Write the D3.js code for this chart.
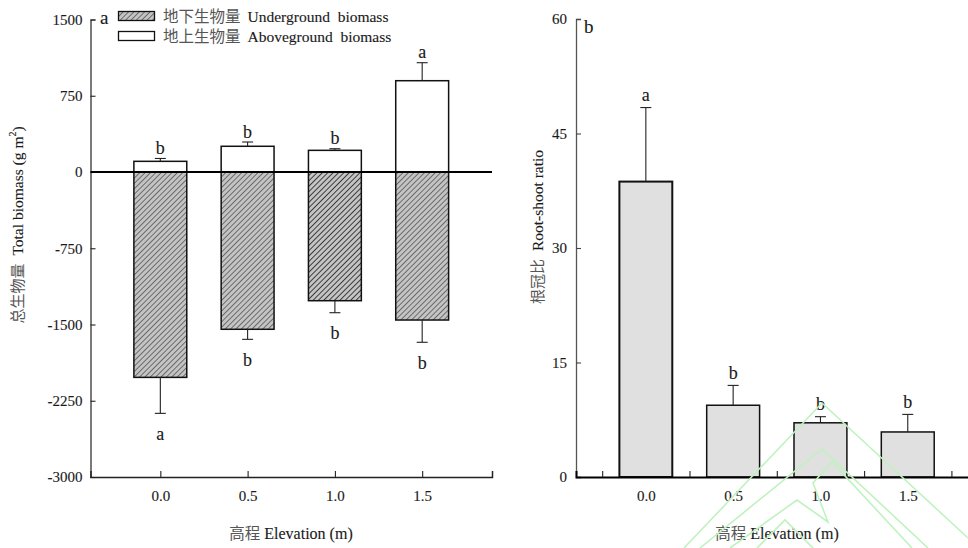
<!DOCTYPE html>
<html>
<head>
<meta charset="utf-8">
<script src="https://cdn.jsdelivr.net/npm/d3@7"></script>
<style>
  html, body { margin: 0; padding: 0; background: #fff; }
  svg { display: block; }
  text { font-family: "Liberation Serif", "Times New Roman", serif; fill: #1a1a1a; stroke: #1a1a1a; stroke-width: 0.12px; }
  .cjk { font-family: "Noto Sans CJK SC", sans-serif; fill: #555; stroke: none; }
</style>
</head>
<body>
<svg id="chart" width="968" height="548"></svg>
<script>
// ---- data ----
const elevations = [0.0, 0.5, 1.0, 1.5];
const elevationLabels = ["0.0", "0.5", "1.0", "1.5"];

// panel a: biomass (g m-2); underground plotted downward
const aboveground = [105, 253, 213, 898];
const abovegroundSE = [28, 42, 16, 177];
const abovegroundLetters = ["b", "b", "b", "a"];
const underground = [-2020, -1547, -1266, -1456];
const undergroundSE = [354, 99, 118, 219];
const undergroundLetters = ["a", "b", "b", "b"];
const biomassTicks = [1500, 750, 0, -750, -1500, -2250, -3000];

// panel b: root-shoot ratio
const rootShoot = [38.7, 9.4, 7.1, 5.9];
const rootShootSE = [9.7, 2.6, 0.8, 2.3];
const rootShootLetters = ["a", "b", "b", "b"];
const ratioTicks = [0, 15, 30, 45, 60];
const ratioMinorTicks = [-0.25, 0.25, 0.75, 1.25, 1.75];

const legendItems = [
  { zh: "地下生物量", en: "Underground  biomass", hatch: true },
  { zh: "地上生物量", en: "Aboveground  biomass", hatch: false }
];

// ---- setup ----
const svg = d3.select("#chart");
const defs = svg.append("defs");

function addHatch(id, sw) {
  const p = defs.append("pattern")
    .attr("id", id)
    .attr("patternUnits", "userSpaceOnUse")
    .attr("width", 3.8).attr("height", 3.8)
    .attr("patternTransform", "rotate(45)");
  p.append("rect").attr("width", 3.8).attr("height", 3.8).attr("fill", "#c4c4c4");
  p.append("line").attr("x1", 0).attr("y1", 0).attr("x2", 0).attr("y2", 3.8)
    .attr("stroke", "#111").attr("stroke-width", sw);
}
addHatch("hatch", 1.0);
addHatch("hatchBold", 1.5);

const barW = 0.303; // bar width in elevation units

function errorBar(g, x, y0, y1, capHalf) {
  g.append("line").attr("x1", x).attr("x2", x).attr("y1", y0).attr("y2", y1)
    .attr("stroke", "#222").attr("stroke-width", 1.1);
  g.append("line").attr("x1", x - capHalf).attr("x2", x + capHalf).attr("y1", y1).attr("y2", y1)
    .attr("stroke", "#222").attr("stroke-width", 1.1);
}

function styleTickText(sel) {
  sel.attr("font-size", 15).attr("font-family", "Liberation Serif").attr("fill", "#1a1a1a");
}

// ================= panel a =================
const xA = d3.scaleLinear().domain([-0.4, 1.9]).range([90.5, 492]);
const yA = d3.scaleLinear().domain([-3000, 1500]).range([477, 19.5]);
const gA = svg.append("g");

// underground bars (hatched; the 1.0 m bar carries a heavier hatch)
gA.selectAll("rect.under").data(elevations).join("rect")
  .attr("class", "under")
  .attr("x", d => xA(d - barW / 2))
  .attr("width", d => xA(d + barW / 2) - xA(d - barW / 2))
  .attr("y", yA(0))
  .attr("height", (d, i) => yA(underground[i]) - yA(0))
  .attr("fill", (d, i) => i === 2 ? "url(#hatchBold)" : "url(#hatch)")
  .attr("stroke", "#111").attr("stroke-width", 1.5);

// aboveground bars (white)
gA.selectAll("rect.above").data(elevations).join("rect")
  .attr("class", "above")
  .attr("x", d => xA(d - barW / 2))
  .attr("width", d => xA(d + barW / 2) - xA(d - barW / 2))
  .attr("y", (d, i) => yA(aboveground[i]))
  .attr("height", (d, i) => yA(0) - yA(aboveground[i]))
  .attr("fill", "#fff")
  .attr("stroke", "#111").attr("stroke-width", 1.5);

elevations.forEach((d, i) => {
  const top = aboveground[i] + abovegroundSE[i];
  const bot = underground[i] - undergroundSE[i];
  errorBar(gA, xA(d), yA(aboveground[i]), yA(top), 5.5);
  errorBar(gA, xA(d), yA(underground[i]), yA(bot), 5.5);
  gA.append("text").attr("x", xA(d)).attr("y", yA(top) - 4.5)
    .attr("text-anchor", "middle").attr("font-size", 18).text(abovegroundLetters[i]);
  gA.append("text").attr("x", xA(d)).attr("y", yA(bot) + 26.5)
    .attr("text-anchor", "middle").attr("font-size", 18).text(undergroundLetters[i]);
});

// y axis
const yAxisA = gA.append("g").attr("transform", `translate(${xA.range()[0]},0)`)
  .call(d3.axisLeft(yA).tickValues(biomassTicks).tickSize(-5).tickPadding(8)
    .tickFormat(d => String(d)));
yAxisA.select(".domain").attr("stroke", "#222").attr("stroke-width", 1.2);
yAxisA.selectAll(".tick line").attr("stroke", "#222").attr("stroke-width", 1.1);
styleTickText(yAxisA.selectAll(".tick text"));

// x axis at the bottom with ticks at category centres
const xAxisA = gA.append("g").attr("transform", `translate(0,${yA(-3000)})`)
  .call(d3.axisBottom(xA).tickValues(elevations).tickSize(-6).tickPadding(13)
    .tickFormat((d, i) => elevationLabels[i]));
xAxisA.select(".domain").attr("stroke", "#222").attr("stroke-width", 1.5);
xAxisA.selectAll(".tick line").attr("stroke", "#222").attr("stroke-width", 1.1);
styleTickText(xAxisA.selectAll(".tick text"));

// zero line
gA.append("line").attr("x1", xA.range()[0]).attr("x2", xA.range()[1])
  .attr("y1", yA(0)).attr("y2", yA(0)).attr("stroke", "#000").attr("stroke-width", 2);

// panel letter
gA.append("text").attr("x", 100).attr("y", 24).attr("font-size", 19).text("a");

// legend
legendItems.forEach((item, i) => {
  const ly = 11.5 + i * 20;
  gA.append("rect").attr("x", 118.5).attr("y", ly).attr("width", 36).attr("height", 9)
    .attr("fill", item.hatch ? "url(#hatch)" : "#fff")
    .attr("stroke", "#111").attr("stroke-width", 1.3);
  const t = gA.append("text").attr("x", 163).attr("y", ly + 10).attr("font-size", 15.5)
    .attr("xml:space", "preserve");
  t.append("tspan").attr("class", "cjk").attr("font-size", 15.5).attr("fill", "#444").text(item.zh);
  t.append("tspan").attr("dx", 7).text(item.en);
});

// axis titles
const ytA = gA.append("text")
  .attr("transform", "translate(23,225) rotate(-90)")
  .attr("text-anchor", "middle").attr("font-size", 15.5);
ytA.append("tspan").attr("class", "cjk").attr("font-size", 15).text("总生物量");
ytA.append("tspan").attr("dx", 8).text("Total biomass (g m");
ytA.append("tspan").attr("font-size", 10).attr("dy", -7).text("2");
ytA.append("tspan").attr("dy", 7).text(")");

const xtA = gA.append("text").attr("x", 291).attr("y", 539)
  .attr("text-anchor", "middle").attr("font-size", 16);
xtA.append("tspan").attr("class", "cjk").attr("font-size", 15.5).text("高程");
xtA.append("tspan").attr("dx", 4).text("Elevation (m)");

// ================= panel b =================
const xB = d3.scaleLinear().domain([-0.4, 1.9]).range([576, 977.6]);
const yB = d3.scaleLinear().domain([0, 60]).range([477, 19]);
const gB = svg.append("g");

gB.selectAll("rect.ratio").data(elevations).join("rect")
  .attr("class", "ratio")
  .attr("x", d => xB(d - barW / 2))
  .attr("width", d => xB(d + barW / 2) - xB(d - barW / 2))
  .attr("y", (d, i) => yB(rootShoot[i]))
  .attr("height", (d, i) => yB(0) - yB(rootShoot[i]))
  .attr("fill", "#e0e0e0")
  .attr("stroke", "#111").attr("stroke-width", (d, i) => i === 0 ? 2 : 1.5);

elevations.forEach((d, i) => {
  const top = rootShoot[i] + rootShootSE[i];
  errorBar(gB, xB(d), yB(rootShoot[i]), yB(top), 5.5);
  gB.append("text").attr("x", xB(d)).attr("y", yB(top) - 6.5)
    .attr("text-anchor", "middle").attr("font-size", 18).text(rootShootLetters[i]);
});

const yAxisB = gB.append("g").attr("transform", `translate(${xB.range()[0]},0)`)
  .call(d3.axisLeft(yB).tickValues(ratioTicks).tickSize(-5).tickPadding(9)
    .tickFormat(d => String(d)));
yAxisB.select(".domain").attr("stroke", "#555").attr("stroke-width", 1.3);
yAxisB.selectAll(".tick line").attr("stroke", "#444").attr("stroke-width", 1.1);
styleTickText(yAxisB.selectAll(".tick text"));

// minor ticks between categories
const xAxisB = gB.append("g").attr("transform", `translate(0,${yB(0)})`)
  .call(d3.axisBottom(xB).tickValues(ratioMinorTicks).tickSize(-6).tickFormat(""));
xAxisB.select(".domain").attr("stroke", "#000").attr("stroke-width", 2);
xAxisB.selectAll(".tick line").attr("stroke", "#222").attr("stroke-width", 1.1);

// category labels
const xLabB = gB.append("g").attr("transform", `translate(0,${yB(0)})`)
  .call(d3.axisBottom(xB).tickValues(elevations).tickSize(0).tickPadding(13)
    .tickFormat((d, i) => elevationLabels[i]));
xLabB.select(".domain").remove();
styleTickText(xLabB.selectAll(".tick text"));

gB.append("text").attr("x", 584).attr("y", 33).attr("font-size", 19).text("b");

const ytB = gB.append("text")
  .attr("transform", "translate(543,227) rotate(-90)")
  .attr("text-anchor", "middle").attr("font-size", 15.5);
ytB.append("tspan").attr("class", "cjk").attr("font-size", 15).text("根冠比");
ytB.append("tspan").attr("dx", 8).text("Root-shoot ratio");

const xtB = gB.append("text").attr("x", 777).attr("y", 539)
  .attr("text-anchor", "middle").attr("font-size", 16);
xtB.append("tspan").attr("class", "cjk").attr("font-size", 15.5).text("高程");
xtB.append("tspan").attr("dx", 4).text("Elevation (m)");

// ---- faint publisher logo in the lower right corner ----
const logo = svg.append("g").attr("fill", "none").attr("stroke", "#bff2bf")
  .attr("stroke-width", 1.6).attr("stroke-linejoin", "miter");
const logoPaths = [
  [[684, 548], [822, 403], [968, 538]],
  [[700, 548], [822, 449], [928, 548]],
  [[912, 548], [832, 462], [813, 483], [828, 522], [797, 500], [730, 548]],
  [[757, 548], [785, 520], [813, 548]]
];
logoPaths.forEach(p => logo.append("path").attr("d", d3.line()(p)));
</script>
</body>
</html>
